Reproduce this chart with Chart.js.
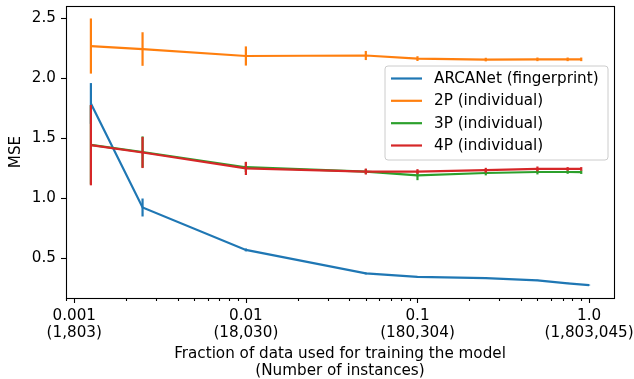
<!DOCTYPE html>
<html>
<head>
<meta charset="utf-8">
<script src="https://cdn.jsdelivr.net/npm/chart.js@4/dist/chart.umd.min.js"></script>
<style>
html,body{margin:0;padding:0;background:#fff;}
canvas{display:block;}
</style>
</head>
<body>
<canvas id="c" width="634" height="379"></canvas>
<script>
// ---- data ----
const seriesNames = ["ARCANet (fingerprint)", "2P (individual)", "3P (individual)", "4P (individual)"];
const seriesColors = ["#1f77b4", "#ff7f0e", "#2ca02c", "#d62728"];

const fractionsBlue   = [0.00125, 0.0025, 0.01, 0.05, 0.1, 0.25, 0.5, 0.75, 1.0];
const fractionsOthers = [0.00125, 0.0025, 0.01, 0.05, 0.1, 0.25, 0.5, 0.75, 0.9];

const arcanetMSE = [1.79, 0.922, 0.568, 0.372, 0.344, 0.333, 0.314, 0.289, 0.275];
const arcanetErr = [0.17, 0.075, 0.012, 0.008, 0.006, 0.006, 0.005, 0.005, 0.004];

const p2MSE = [2.269, 2.244, 2.186, 2.19, 2.164, 2.156, 2.158, 2.158, 2.158];
const p2Err = [0.23, 0.14, 0.08, 0.038, 0.02, 0.015, 0.015, 0.015, 0.015];

const p3MSE = [1.445, 1.385, 1.258, 1.222, 1.19, 1.21, 1.218, 1.218, 1.217];
const p3Err = [0.33, 0.13, 0.04, 0.02, 0.04, 0.02, 0.02, 0.015, 0.015];

const p4MSE = [1.442, 1.381, 1.248, 1.222, 1.222, 1.233, 1.244, 1.244, 1.244];
const p4Err = [0.335, 0.13, 0.055, 0.025, 0.02, 0.02, 0.02, 0.015, 0.015];

const xTickValues = [0.001, 0.01, 0.1, 1];
const xTickTop    = ["0.001", "0.01", "0.1", "1.0"];
const xTickBottom = ["(1,803)", "(18,030)", "(180,304)", "(1,803,045)"];
const yTickValues = [0.5, 1.0, 1.5, 2.0, 2.5];

const xTitle = ["Fraction of data used for training the model", "(Number of instances)"];
const yTitle = "MSE";

// ---- build datasets ----
function pts(xs, ys) { return xs.map((x, i) => ({x: x, y: ys[i]})); }
const FONT = "'DejaVu Sans', sans-serif";
const FS = 15.2;
const LH = 1.1;
const LW = 2.2;

const seriesX = [fractionsBlue, fractionsOthers, fractionsOthers, fractionsOthers];
const seriesY = [arcanetMSE, p2MSE, p3MSE, p4MSE];
const seriesE = [arcanetErr, p2Err, p3Err, p4Err];

const datasets = seriesNames.map((name, k) => ({
  label: name,
  data: pts(seriesX[k], seriesY[k]),
  errors: seriesE[k],
  borderColor: seriesColors[k],
  backgroundColor: seriesColors[k],
  borderWidth: LW,
  pointRadius: 0,
  pointHoverRadius: 0,
  tension: 0,
  fill: false,
  order: 4 - k
}));

function zeroPad(scale) {
  scale.paddingLeft = 0; scale.paddingRight = 0;
  scale.paddingTop = 0; scale.paddingBottom = 0;
}

const decoPlugin = {
  id: 'deco',
  afterDatasetDraw(chart, args) {
    const ds = chart.data.datasets[args.index];
    const xs = chart.scales.x, ys = chart.scales.y;
    const ctx = chart.ctx;
    ctx.save();
    ctx.strokeStyle = ds.borderColor;
    ctx.lineWidth = LW;
    ctx.lineCap = 'butt';
    ds.data.forEach((p, i) => {
      const e = ds.errors[i];
      const px = xs.getPixelForValue(p.x);
      const y1 = ys.getPixelForValue(p.y + e);
      const y2 = ys.getPixelForValue(p.y - e);
      ctx.beginPath();
      ctx.moveTo(px, y1);
      ctx.lineTo(px, y2);
      ctx.stroke();
    });
    ctx.restore();
  },
  afterDraw(chart) {
    const ctx = chart.ctx;
    const a = chart.chartArea;
    const xs = chart.scales.x, ys = chart.scales.y;
    ctx.save();
    ctx.strokeStyle = '#000';
    ctx.lineWidth = 1.1;
    // x ticks (major and minor)
    for (let e = -4; e <= 0; e++) {
      for (let m = 1; m <= 9; m++) {
        const v = m * Math.pow(10, e);
        if (v < xs.min || v > xs.max) continue;
        const px = Math.round(xs.getPixelForValue(v)) + 0.5;
        const len = (m === 1) ? 5 : 3;
        ctx.beginPath();
        ctx.moveTo(px, a.bottom);
        ctx.lineTo(px, a.bottom + len);
        ctx.stroke();
      }
    }
    // y ticks
    yTickValues.forEach(v => {
      const py = Math.round(ys.getPixelForValue(v)) + 0.5;
      ctx.beginPath();
      ctx.moveTo(a.left - 5, py);
      ctx.lineTo(a.left, py);
      ctx.stroke();
    });
    // spines
    ctx.strokeRect(Math.round(a.left) + 0.5, Math.round(a.top) + 0.5,
                   Math.round(a.right - a.left), Math.round(a.bottom - a.top));
    // legend
    const bx = 385, by = 66, bw = 223, bh = 94, r = 3;
    ctx.beginPath();
    ctx.moveTo(bx + r, by);
    ctx.lineTo(bx + bw - r, by);
    ctx.arcTo(bx + bw, by, bx + bw, by + r, r);
    ctx.lineTo(bx + bw, by + bh - r);
    ctx.arcTo(bx + bw, by + bh, bx + bw - r, by + bh, r);
    ctx.lineTo(bx + r, by + bh);
    ctx.arcTo(bx, by + bh, bx, by + bh - r, r);
    ctx.lineTo(bx, by + r);
    ctx.arcTo(bx, by, bx + r, by, r);
    ctx.closePath();
    ctx.fillStyle = 'rgba(255,255,255,0.8)';
    ctx.fill();
    ctx.strokeStyle = '#cccccc';
    ctx.lineWidth = 1;
    ctx.stroke();
    const rowY = [78.5, 100.8, 123.2, 145.5];
    ctx.font = FS + "px " + FONT;
    ctx.textBaseline = 'middle';
    ctx.textAlign = 'left';
    seriesNames.forEach((name, k) => {
      ctx.strokeStyle = seriesColors[k];
      ctx.lineWidth = LW;
      ctx.beginPath();
      ctx.moveTo(391, rowY[k]);
      ctx.lineTo(422, rowY[k]);
      ctx.stroke();
      ctx.fillStyle = '#000';
      ctx.fillText(name, 434, rowY[k] + 0.5);
    });
    ctx.restore();
  }
};

new Chart(document.getElementById('c'), {
  type: 'line',
  data: { datasets: datasets },
  plugins: [decoPlugin],
  options: {
    responsive: false,
    devicePixelRatio: 1,
    animation: false,
    events: [],
    layout: { padding: { left: 0, right: 20, top: 6, bottom: 0 } },
    plugins: { legend: { display: false }, tooltip: { enabled: false } },
    scales: {
      x: {
        type: 'logarithmic',
        min: 0.000895,
        max: 1.397,
        afterBuildTicks(scale) { scale.ticks = xTickValues.map(v => ({value: v})); },
        afterFit(scale) { scale.height = 81; zeroPad(scale); },
        grid: { drawOnChartArea: false, drawTicks: true, tickLength: 5, tickColor: 'rgba(0,0,0,0)' },
        border: { display: false },
        ticks: {
          autoSkip: false,
          maxRotation: 0,
          padding: 5,
          color: '#000',
          font: { family: FONT, size: FS, lineHeight: LH },
          callback(v) {
            const i = xTickValues.findIndex(t => Math.abs(t - v) / t < 1e-6);
            return i >= 0 ? [xTickTop[i], xTickBottom[i]] : '';
          }
        },
        title: {
          display: true,
          text: xTitle,
          color: '#000',
          font: { family: FONT, size: FS, lineHeight: LH },
          padding: { top: 0, bottom: 0 }
        }
      },
      y: {
        type: 'linear',
        min: 0.167,
        max: 2.603,
        afterBuildTicks(scale) { scale.ticks = yTickValues.map(v => ({value: v})); },
        afterFit(scale) { scale.width = 66; zeroPad(scale); },
        grid: { drawOnChartArea: false, drawTicks: true, tickLength: 5, tickColor: 'rgba(0,0,0,0)' },
        border: { display: false },
        ticks: {
          padding: 5,
          color: '#000',
          font: { family: FONT, size: FS, lineHeight: LH },
          callback(v) { return Number(v).toFixed(1); }
        },
        title: {
          display: true,
          text: yTitle,
          color: '#000',
          font: { family: FONT, size: FS, lineHeight: LH },
          padding: { top: 8, bottom: 0 }
        }
      }
    }
  }
});
</script>
</body>
</html>
